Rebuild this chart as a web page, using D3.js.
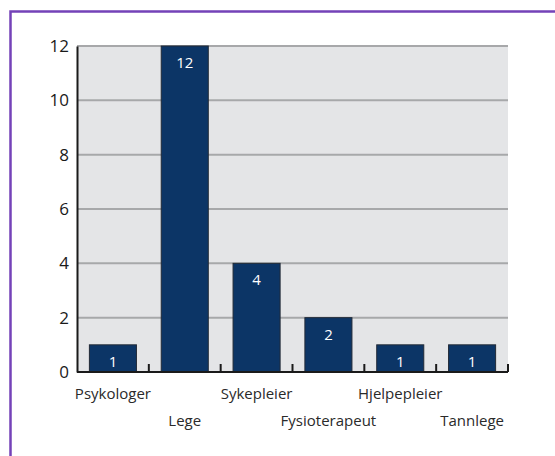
<!DOCTYPE html>
<html>
<head>
<meta charset="utf-8">
<script src="https://cdn.jsdelivr.net/npm/d3@7"></script>
<style>
  html, body { margin: 0; padding: 0; background: #fff; }
  svg { display: block; }
  text { font-family: "Open Sans", "Noto Sans", sans-serif; }
</style>
</head>
<body>
<svg id="chart" width="555" height="456"></svg>
<script>
// Antall per yrkesgruppe
const categories = ["Psykologer", "Lege", "Sykepleier", "Fysioterapeut", "Hjelpepleier", "Tannlege"];
const values = [1, 12, 4, 2, 1, 1];
const yTicks = [0, 2, 4, 6, 8, 10, 12];

const svg = d3.select("#chart");
const W = 555, H = 456;
const plot = { left: 77, right: 508, top: 46, bottom: 372 };

// Purple frame
svg.append("path")
  .attr("d", `M${W + 5},11.5 H10.5 V${H + 5}`)
  .attr("fill", "none")
  .attr("stroke", "#7442b8")
  .attr("stroke-width", 2.5);

const x = d3.scaleBand().domain(categories).range([plot.left, plot.right]).padding(0);
const y = d3.scaleLinear().domain([0, 12]).range([plot.bottom, plot.top]);

// Plot background
svg.append("rect")
  .attr("x", plot.left).attr("y", plot.top)
  .attr("width", plot.right - plot.left).attr("height", plot.bottom - plot.top)
  .attr("fill", "#e4e5e7");

// Gridlines
svg.append("g")
  .selectAll("line")
  .data(yTicks.filter(d => d > 0))
  .join("line")
  .attr("x1", plot.left).attr("x2", plot.right)
  .attr("y1", d => y(d)).attr("y2", d => y(d))
  .attr("stroke", "#a7a8aa")
  .attr("stroke-width", 2);

// Bars
const barW = x.bandwidth() * 0.655;
svg.append("g")
  .selectAll("rect")
  .data(values)
  .join("rect")
  .attr("x", (d, i) => x(categories[i]) + (x.bandwidth() - barW) / 2)
  .attr("y", d => y(d))
  .attr("width", barW)
  .attr("height", d => plot.bottom - y(d))
  .attr("fill", "#0c3566")
  .attr("stroke", "#222a36")
  .attr("stroke-width", 1);

// Value labels
svg.append("g")
  .selectAll("text")
  .data(values)
  .join("text")
  .attr("x", (d, i) => x(categories[i]) + x.bandwidth() / 2)
  .attr("y", d => y(d) + 22)
  .attr("text-anchor", "middle")
  .attr("fill", "#fff")
  .attr("font-size", 15)
  .text(d => d);

// Y axis
const yAxis = d3.axisLeft(y).tickValues(yTicks).tickSize(0).tickPadding(8);
const gy = svg.append("g").attr("transform", `translate(${plot.left},0)`).call(yAxis);
gy.select(".domain").attr("stroke", "#1a1a1a").attr("stroke-width", 2);
gy.selectAll("text").attr("font-size", 17).attr("fill", "#1a1a1a")
  .attr("font-family", "\"Open Sans\", sans-serif");

// X axis with inward ticks on category boundaries
const xAxis = d3.axisBottom(x).tickSize(0).tickFormat("");
const gx = svg.append("g").attr("transform", `translate(0,${plot.bottom})`).call(xAxis);
gx.select(".domain").attr("stroke", "#1a1a1a").attr("stroke-width", 2).attr("d", `M${plot.left},0H${plot.right}`);
gx.selectAll(".tick").remove();
const bounds = categories.map(c => x(c) + x.bandwidth());
gx.selectAll("line.bnd")
  .data(bounds)
  .join("line")
  .attr("class", "bnd")
  .attr("x1", d => d).attr("x2", d => d)
  .attr("y1", 0).attr("y2", -8)
  .attr("stroke", "#1a1a1a").attr("stroke-width", 2);

// Category labels, staggered on two rows
svg.append("g")
  .selectAll("text")
  .data(categories)
  .join("text")
  .attr("x", d => x(d) + x.bandwidth() / 2)
  .attr("y", (d, i) => i % 2 === 0 ? 399 : 426)
  .attr("text-anchor", "middle")
  .attr("font-size", 15)
  .attr("fill", "#2a2a2a")
  .text(d => d);
</script>
</body>
</html>
